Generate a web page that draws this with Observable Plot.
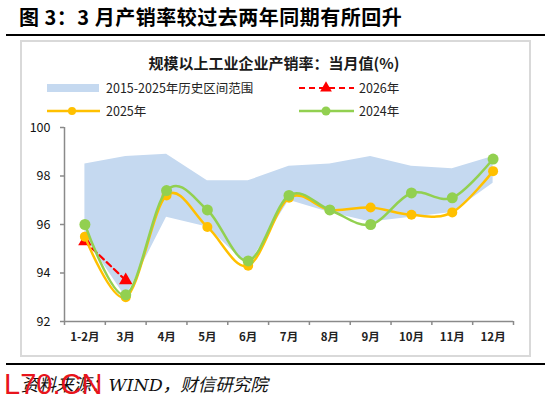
<!DOCTYPE html>
<html><head><meta charset="utf-8">
<script src="https://cdn.jsdelivr.net/npm/d3@7"></script>
<script src="https://cdn.jsdelivr.net/npm/@observablehq/plot@0.6"></script>
<style>
body{margin:0;background:#fff;}
#wrap{position:relative;width:550px;height:399px;overflow:hidden;background:#fff;font-family:"Noto Sans CJK SC","Noto Sans",sans-serif;color:#000;}
.abs{position:absolute;white-space:nowrap;}
#title{left:19px;top:4px;font-size:20px;letter-spacing:0.5px;font-weight:bold;line-height:26px;}
.rule{left:6px;width:539px;height:2px;background:#000;}
#box{left:20px;top:40px;width:511px;height:317px;border:2px solid #d9d9d9;box-sizing:border-box;}
#ctitle{left:0;width:548px;text-align:center;top:52px;font-size:15px;font-weight:bold;line-height:22px;color:#1a1a1a;}
.leg{font-size:12.5px;line-height:16px;color:#222;}
#caption{left:21px;top:373px;font-size:17.5px;font-style:italic;font-family:"DejaVu Serif","Noto Sans CJK SC",serif;line-height:24px;color:#111;}
#wm{left:4px;top:367px;font-size:29px;font-family:"Liberation Sans",sans-serif;color:#e8141b;line-height:34px;}
#chart{position:absolute;left:0;top:0;}
</style></head><body>
<div id="wrap">
  <div class="abs" id="title">图 3：3 月产销率较过去两年同期有所回升</div>
  <div class="abs rule" style="top:34px"></div>
  <div class="abs" id="box"></div>
  <div id="chart"></div>
  <div class="abs" id="ctitle">规模以上工业企业产销率：当月值(%)</div>
  <svg class="abs" style="left:0;top:0" width="550" height="130" id="legsvg"></svg>
  <div class="abs leg" style="left:106px;top:80px">2015-2025年历史区间范围</div>
  <div class="abs leg" style="left:359px;top:80px">2026年</div>
  <div class="abs leg" style="left:106px;top:103px">2025年</div>
  <div class="abs leg" style="left:359px;top:103px">2024年</div>
  <div class="abs rule" style="top:363px"></div>
  <div class="abs" id="caption">资料来源：WIND，财信研究院</div>
  <div class="abs" id="wm">L70.CN</div>
</div>
<script>
const months = ["1-2月","3月","4月","5月","6月","7月","8月","9月","10月","11月","12月"];
const rangeLow  = [95.5, 93.0, 96.3, 95.9, 94.3, 97.0, 96.5, 96.1, 96.3, 96.5, 97.7];
const rangeHigh = [98.5, 98.8, 98.9, 97.8, 97.8, 98.4, 98.5, 98.8, 98.4, 98.3, 98.8];
const v2024 = [96.0, 93.1, 97.4, 96.6, 94.5, 97.2, 96.6, 96.0, 97.3, 97.1, 98.7];
const v2025 = [95.5, 93.0, 97.2, 95.9, 94.3, 97.1, 96.6, 96.7, 96.4, 96.5, 98.2];
const v2026 = [95.3, 93.7];
const yTicks = [92, 94, 96, 98, 100];

const colors = {band:"#c5d9f0", y2024:"#92d050", y2025:"#ffc000", y2026:"#ff0000", axis:"#8a8a8a"};

const rows = months.map((m, i) => ({i: i + 0.5, m, lo: rangeLow[i], hi: rangeHigh[i], a: v2024[i], b: v2025[i]}));
const rows26 = v2026.map((v, i) => ({i: i + 0.5, v}));
const bounds = d3.range(0, months.length + 1);

const plot = Plot.plot({
  width: 550, height: 399,
  marginTop: 127, marginBottom: 78, marginLeft: 64, marginRight: 37,
  style: {background: "transparent", fontFamily: "'Noto Sans CJK SC','Noto Sans',sans-serif"},
  x: {type: "linear", domain: [0, months.length], label: null},
  y: {domain: [yTicks[0], yTicks[yTicks.length - 1]], label: null},
  marks: [
    Plot.areaY(rows, {x: "i", y1: "lo", y2: "hi", fill: colors.band}),
    Plot.ruleY([yTicks[0]], {stroke: colors.axis, strokeWidth: 1.5}),
    Plot.ruleX([0], {stroke: colors.axis, strokeWidth: 1.5}),
    Plot.axisX(bounds, {tickSize: 4, tickFormat: () => "", stroke: colors.axis, strokeWidth: 1.5, label: null}),
    Plot.axisX(rows.map(d => d.i), {tickSize: 0, tickPadding: 11, tickFormat: d => months[d - 0.5], fontSize: 11.5, fontWeight: "bold", fill: "#222", label: null}),
    Plot.axisY(yTicks, {tickSize: 4, tickPadding: 10, stroke: colors.axis, strokeWidth: 1.5, fontSize: 12.5, fill: "#111", label: null}),
    Plot.line(rows26, {x: "i", y: "v", stroke: colors.y2026, strokeWidth: 2.2, strokeDasharray: "6,4"}),
    Plot.dot(rows26, {x: "i", y: "v", symbol: "triangle", r: 5, fill: colors.y2026}),
    Plot.line(rows, {x: "i", y: "b", stroke: colors.y2025, strokeWidth: 2.5, curve: "cardinal"}),
    Plot.dot(rows, {x: "i", y: "b", r: 5, fill: colors.y2025}),
    Plot.line(rows, {x: "i", y: "a", stroke: colors.y2024, strokeWidth: 2.5, curve: "cardinal"}),
    Plot.dot(rows, {x: "i", y: "a", r: 5.5, fill: colors.y2024})
  ]
});
document.getElementById("chart").appendChild(plot);

// legend swatches
const ls = d3.select("#legsvg");
ls.append("rect").attr("x", 47).attr("y", 84).attr("width", 52).attr("height", 8).attr("fill", colors.band);
ls.append("line").attr("x1", 299).attr("x2", 354).attr("y1", 88).attr("y2", 88).attr("stroke", colors.y2026).attr("stroke-width", 2.2).attr("stroke-dasharray", "6,4");
ls.append("path").attr("d", d3.symbol(d3.symbolTriangle, 60)()).attr("transform", "translate(326,88)").attr("fill", colors.y2026);
ls.append("line").attr("x1", 47).attr("x2", 100).attr("y1", 111).attr("y2", 111).attr("stroke", colors.y2025).attr("stroke-width", 2.5);
ls.append("circle").attr("cx", 72).attr("cy", 111).attr("r", 4).attr("fill", colors.y2025);
ls.append("line").attr("x1", 299).attr("x2", 354).attr("y1", 111).attr("y2", 111).attr("stroke", colors.y2024).attr("stroke-width", 2.5);
ls.append("circle").attr("cx", 326).attr("cy", 111).attr("r", 4.5).attr("fill", colors.y2024);
</script>
</body></html>
